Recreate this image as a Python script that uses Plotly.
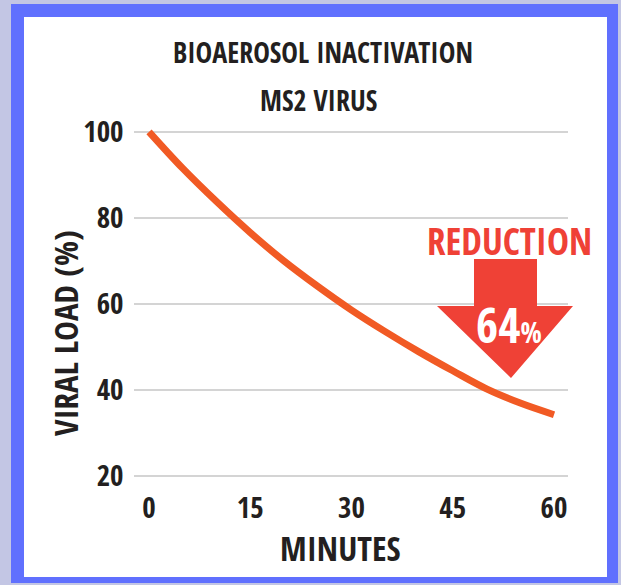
import plotly.graph_objects as go

# ---- data ----
minutes = [0, 5, 10, 15, 20, 25, 30, 35, 40, 45, 50, 55, 60]
viral_load = [100, 91.5, 83.8, 76.6, 70.0, 64.1, 58.6, 53.6, 48.9, 44.5, 40.3, 37.0, 34.3]
x_ticks = [0, 15, 30, 45, 60]
y_ticks = [20, 40, 60, 80, 100]
reduction_pct = 64

W, H = 621, 585
FONT = "Open Sans Condensed, Roboto Condensed, Liberation Sans Narrow, sans-serif"
DARK = "#231f20"
RED = "#ef4136"


def px(x):
    return x / W


def py(y):
    return 1 - y / H


fig = go.Figure()
fig.add_trace(go.Scatter(
    x=minutes, y=viral_load, mode="lines",
    line=dict(color="#f15a24", width=7, shape="spline"),
    hoverinfo="x+y", showlegend=False,
))

shapes = [
    dict(type="rect", xref="paper", yref="paper", layer="below",
         x0=px(11), x1=px(618), y0=py(583), y1=py(4),
         fillcolor="#6070fe", line=dict(width=0)),
    dict(type="rect", xref="paper", yref="paper", layer="below",
         x0=px(24), x1=px(607), y0=py(577), y1=py(17),
         fillcolor="#ffffff", line=dict(width=0)),
]
arrow_pts = [(474, 259), (537, 259), (537, 306), (573, 306), (511, 378),
             (437, 306), (474, 306)]
path = "M " + " L ".join(f"{px(a):.5f},{py(b):.5f}" for a, b in arrow_pts) + " Z"
shapes.append(dict(type="path", xref="paper", yref="paper", layer="above",
                   path=path, fillcolor=RED, line=dict(width=0)))

ann = [
    dict(text="BIOAEROSOL INACTIVATION", x=px(323), y=py(52),
         font=dict(size=28, color=DARK, family=FONT, weight="bold")),
    dict(text="MS2 VIRUS", x=px(318), y=py(100),
         font=dict(size=28, color=DARK, family=FONT, weight="bold")),
    dict(text="MINUTES", x=px(340), y=py(548),
         font=dict(size=34, color=DARK, family=FONT, weight="bold")),
    dict(text="VIRAL LOAD (%)", x=px(65), y=py(333), textangle=-90,
         font=dict(size=33, color=DARK, family=FONT, weight="bold")),
    dict(text="REDUCTION", x=px(509), y=py(240),
         font=dict(size=37, color=RED, family=FONT, weight="bold")),
    dict(text=f"{reduction_pct}<span style='font-size:28px'>%</span>",
         x=px(509), y=py(324),
         font=dict(size=48, color="#ffffff", family=FONT, weight="bold")),
]
for a in ann:
    a.update(xref="paper", yref="paper", showarrow=False,
             xanchor="center", yanchor="middle")

fig.update_layout(
    width=W, height=H,
    margin=dict(l=0, r=0, t=0, b=0, pad=0),
    paper_bgcolor="#c3c6e4",
    plot_bgcolor="rgba(0,0,0,0)",
    shapes=shapes, annotations=ann,
    xaxis=dict(domain=[px(133.5), px(568.2)], range=[-2.3, 62.1],
               tickvals=x_ticks, ticktext=[str(v) for v in x_ticks],
               showgrid=False, zeroline=False, showline=False, ticks="",
               automargin=False, ticklabelstandoff=7,
               tickfont=dict(size=29, color=DARK, family=FONT, weight="bold")),
    yaxis=dict(domain=[py(480.6), py(127.5)], range=[19, 101],
               tickvals=y_ticks, ticktext=[str(v) for v in y_ticks],
               showgrid=True, gridcolor="#d4d4d4", gridwidth=2,
               zeroline=False, showline=False, ticks="",
               automargin=False, ticklabelstandoff=9,
               tickfont=dict(size=29, color=DARK, family=FONT, weight="bold")),
)

fig.write_html("out.html", config={"displayModeBar": False},
               post_script="document.body.style.margin='0';document.body.style.overflow='hidden';")
